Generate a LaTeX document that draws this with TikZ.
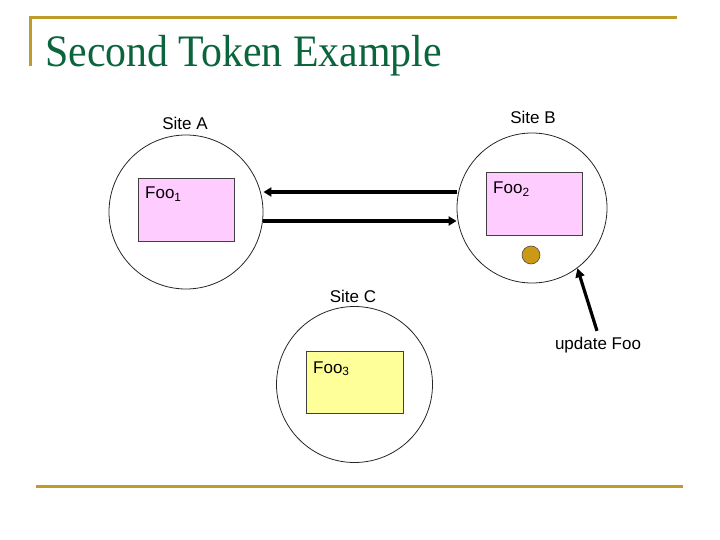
\documentclass[tikz,border=0pt]{standalone}
\usepackage{fontspec}
\setmainfont{Liberation Sans}
\newfontfamily\titlefont{Liberation Serif}
\usetikzlibrary{arrows.meta,calc}
\definecolor{gold}{RGB}{190,156,44}
\definecolor{titlegreen}{RGB}{10,100,60}
\definecolor{pinkbox}{RGB}{255,204,255}
\definecolor{yellowbox}{RGB}{255,255,153}
\definecolor{dot}{RGB}{204,153,20}
\tikzset{
  site/.style={circle,draw=black!85,line width=0.8pt,inner sep=0pt},
  foobox/.style={draw=black!75,line width=0.8pt,inner sep=0pt},
  lbl/.style={font=\fontsize{17}{20}\selectfont,inner sep=1pt},
  foolbl/.style={font=\fontsize{17}{20}\selectfont,anchor=base west,inner sep=0pt},
  thick arrow/.style={line width=4pt,-{Triangle[length=8pt,width=9pt]}},
  upd arrow/.style={line width=3.2pt,-{Triangle[length=9pt,width=9pt]}}
}
\begin{document}
\begin{tikzpicture}[x=1pt,y=-1pt]
\useasboundingbox (0,0) rectangle (720,540);
% frame lines
\draw[gold,line width=3pt] (30,66) -- (30,18) -- (677,18);
\draw[gold,line width=3pt] (36,486) -- (683,486);
% title
\node[anchor=base west,inner sep=0pt,text=titlegreen,xscale=0.93,font=\titlefont\fontsize{45}{50}\selectfont] (title) at (45,67) {Second Token Example};
% sites
\node[site,minimum size=154pt] (A) at (186,212) {};
\node[site,minimum size=150pt] (B) at (532,208) {};
\node[site,minimum size=156pt] (C) at (354.5,384.5) {};
% boxes
\node[foobox,fill=pinkbox,minimum width=96pt,minimum height=63pt] (box1) at (186,209.5) {};
\node[foobox,fill=pinkbox,minimum width=96pt,minimum height=63pt] (box2) at (534,203.5) {};
\node[foobox,fill=yellowbox,minimum width=97pt,minimum height=62pt] (box3) at (354.5,382) {};
\node[foolbl] (f1) at (145,199) {Foo\textsubscript{1}};
\node[foolbl] (f2) at (493,194) {Foo\textsubscript{2}};
\node[foolbl] (f3) at (313,373) {Foo\textsubscript{3}};
% site labels
\node[lbl] (la) at (185,123) {Site A};
\node[lbl] (lb) at (533,117) {Site B};
\node[lbl] (lc) at (353,296) {Site C};
\node[lbl] (upd) at (598,345) {update Foo};
% token dot
\node[circle,draw=black!70,fill=dot,line width=0.6pt,minimum size=18pt,inner sep=0pt] (tok) at (531,255) {};
% arrows
\draw[thick arrow] (B.west |- 0,192) -- (A.east |- 0,192);
\draw[thick arrow] (A.east |- 0,221) -- (B.west |- 0,221);
\draw[upd arrow] ($(upd.north)+(-1,-5)$) -- (B.-53);
\end{tikzpicture}
\end{document}
